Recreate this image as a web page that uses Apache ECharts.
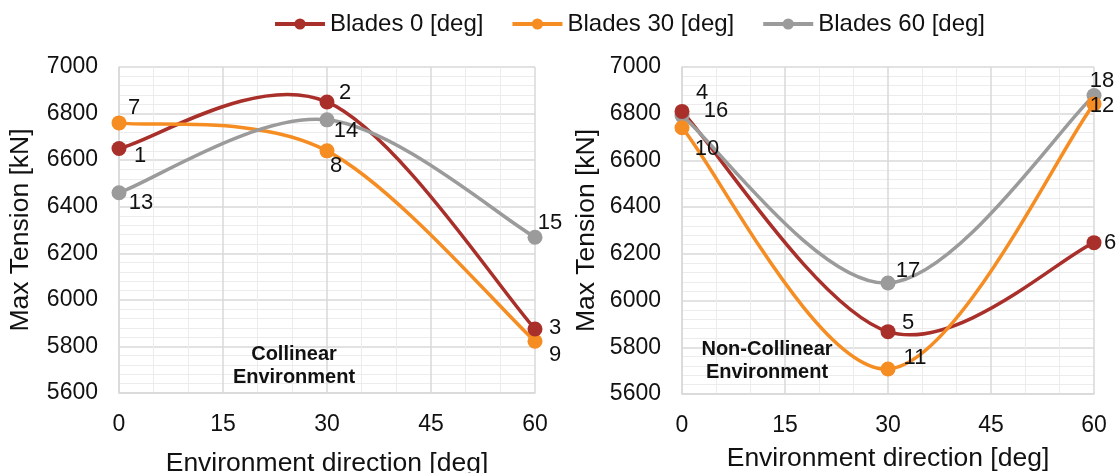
<!DOCTYPE html>
<html>
<head>
<meta charset="utf-8">
<script src="https://cdn.jsdelivr.net/npm/echarts@6/dist/echarts.min.js"></script>
<style>
  html, body { margin: 0; padding: 0; background: #fff; }
  #chart { width: 1118px; height: 473px; }
</style>
</head>
<body>
<div id="chart"></div>
<script>
// data
let directions = [0, 30, 60];
let seriesNames = ['Blades 0 [deg]', 'Blades 30 [deg]', 'Blades 60 [deg]'];
let collinear0 = [6650, 6850, 5875];
let collinear30 = [6760, 6640, 5822];
let collinear60 = [6460, 6773, 6269];
let nonCollinear0 = [6810, 5867, 6248];
let nonCollinear30 = [6740, 5707, 6842];
let nonCollinear60 = [6792, 6075, 6878];
let collinearTags = [['1', '2', '3'], ['7', '8', '9'], ['13', '14', '15']];
let nonCollinearTags = [['4', '5', '6'], ['10', '11', '12'], ['16', '17', '18']];
let xTicks = [0, 15, 30, 45, 60];
let yMin = 5600, yMax = 7000, yStep = 200;

// label offsets from the marker (px), just styling
let collinearOffsets = [
    [[21, 7], [18, -9], [20, -1]],
    [[15, -15], [9, 15], [20, 14]],
    [[22, 10], [19, 11], [15, -14]]
];
let nonCollinearOffsets = [
    [[20, -18], [20, -9], [16, 0]],
    [[25, 21], [27, -11], [8, 2]],
    [[34, -5], [20, -12], [8, -15]]
];

let colors = ['#A9302A', '#F68D22', '#9B9B9B'];
let font = 'Liberation Sans, Arial, sans-serif';

let chart = echarts.init(document.getElementById('chart'));

// excel-like smoothed curve through the points (bezier, tangent = (next - prev) / 6)
function smoothPath(pts) {
    let n = pts.length;
    let d = 'M' + pts[0][0] + ' ' + pts[0][1];
    for (let i = 0; i < n - 1; i++) {
        let p0 = pts[Math.max(i - 1, 0)], p1 = pts[i], p2 = pts[i + 1], p3 = pts[Math.min(i + 2, n - 1)];
        let c1x = p1[0] + (p2[0] - p0[0]) / 6, c1y = p1[1] + (p2[1] - p0[1]) / 6;
        let c2x = p2[0] - (p3[0] - p1[0]) / 6, c2y = p2[1] - (p3[1] - p1[1]) / 6;
        d += ' C' + c1x + ' ' + c1y + ' ' + c2x + ' ' + c2y + ' ' + p2[0] + ' ' + p2[1];
    }
    return d;
}

function makeCurve(values, idx, gridIdx) {
    return {
        type: 'custom',
        name: seriesNames[idx] + ' curve',
        xAxisIndex: gridIdx,
        yAxisIndex: gridIdx,
        silent: true,
        z: 2,
        data: [[directions[0], values[0]]],
        encode: { x: 0, y: 1 },
        renderItem: function (params, api) {
            let pts = values.map(function (v, i) { return api.coord([directions[i], v]); });
            return {
                type: 'path',
                shape: { pathData: smoothPath(pts) },
                style: { stroke: colors[idx], lineWidth: 3.5, fill: 'none' }
            };
        }
    };
}

function makeSeries(values, tags, offsets, idx, gridIdx) {
    return {
        name: seriesNames[idx],
        type: 'line',
        xAxisIndex: gridIdx,
        yAxisIndex: gridIdx,
        symbol: 'circle',
        symbolSize: 15,
        color: colors[idx],
        lineStyle: { width: 0, opacity: 0, color: colors[idx] },
        data: values.map(function (v, i) {
            return {
                value: [directions[i], v],
                label: {
                    show: true,
                    formatter: tags[i],
                    position: 'inside',
                    offset: offsets[i],
                    color: '#111',
                    fontSize: 22,
                    fontFamily: font
                }
            };
        }),
        z: 3 + (2 - idx)
    };
}

function xAxisFor(gridIdx, gap) {
    return {
        type: 'value',
        gridIndex: gridIdx,
        min: 0, max: 60, interval: 15,
        name: 'Environment direction [deg]',
        nameLocation: 'middle',
        nameGap: gap,
        nameTextStyle: { fontSize: 26.5, color: '#111', fontFamily: font },
        axisLine: { show: true, lineStyle: { color: '#d9d9d9', width: 1.5 } },
        axisTick: { show: false },
        axisLabel: { fontSize: 23, color: '#111', fontFamily: font, margin: 20,
            formatter: function (v) { return xTicks.indexOf(v) >= 0 ? String(v) : ''; } },
        splitLine: { show: true, lineStyle: { color: '#d9d9d9', width: 1.5 } },
        minorTick: { show: false, splitNumber: 3 },
        minorSplitLine: { show: true, lineStyle: { color: '#ececec', width: 1 } }
    };
}

function yAxisFor(gridIdx, gap) {
    return {
        type: 'value',
        gridIndex: gridIdx,
        min: yMin, max: yMax, interval: yStep,
        name: 'Max Tension [kN]',
        nameLocation: 'middle',
        nameGap: gap,
        nameTextStyle: { fontSize: 26.5, color: '#111', fontFamily: font },
        axisLine: { show: true, lineStyle: { color: '#d9d9d9', width: 1.5 } },
        axisTick: { show: false },
        axisLabel: { fontSize: 23, color: '#111', fontFamily: font, margin: 21,
            formatter: function (v) { return String(v); } },
        splitLine: { show: true, lineStyle: { color: '#d9d9d9', width: 1.5 } },
        minorTick: { show: false, splitNumber: 5 },
        minorSplitLine: { show: true, lineStyle: { color: '#ececec', width: 1 } }
    };
}

let option = {
    animation: false,
    backgroundColor: '#fff',
    textStyle: { fontFamily: font },
    legend: {
        top: 7,
        left: 268,
        itemWidth: 50,
        itemHeight: 14,
        itemGap: 27,
        lineStyle: { width: 4, opacity: 1 },
        textStyle: { fontSize: 24, color: '#111', fontFamily: font },
        data: seriesNames
    },
    grid: [
        { left: 119, top: 67, width: 416, height: 326, outerBoundsMode: 'none', containLabel: false },
        { left: 682, top: 67, width: 412, height: 327, outerBoundsMode: 'none', containLabel: false }
    ],
    xAxis: [xAxisFor(0, 57), xAxisFor(1, 51)],
    yAxis: [yAxisFor(0, 85), yAxisFor(1, 82)],
    graphic: [
        {
            type: 'text', x: 294, y: 366, z: 100,
            style: { text: 'Collinear\nEnvironment', align: 'center', verticalAlign: 'middle',
                font: 'bold 20px ' + font, fill: '#111', lineHeight: 23 }
        },
        {
            type: 'text', x: 767, y: 361, z: 100,
            style: { text: 'Non-Collinear\nEnvironment', align: 'center', verticalAlign: 'middle',
                font: 'bold 20px ' + font, fill: '#111', lineHeight: 23 }
        }
    ],
    series: [
        makeCurve(collinear0, 0, 0),
        makeCurve(collinear30, 1, 0),
        makeCurve(collinear60, 2, 0),
        makeCurve(nonCollinear0, 0, 1),
        makeCurve(nonCollinear30, 1, 1),
        makeCurve(nonCollinear60, 2, 1),
        makeSeries(collinear0, collinearTags[0], collinearOffsets[0], 0, 0),
        makeSeries(collinear30, collinearTags[1], collinearOffsets[1], 1, 0),
        makeSeries(collinear60, collinearTags[2], collinearOffsets[2], 2, 0),
        makeSeries(nonCollinear0, nonCollinearTags[0], nonCollinearOffsets[0], 0, 1),
        makeSeries(nonCollinear30, nonCollinearTags[1], nonCollinearOffsets[1], 1, 1),
        makeSeries(nonCollinear60, nonCollinearTags[2], nonCollinearOffsets[2], 2, 1)
    ]
};
chart.setOption(option);
</script>
</body>
</html>
